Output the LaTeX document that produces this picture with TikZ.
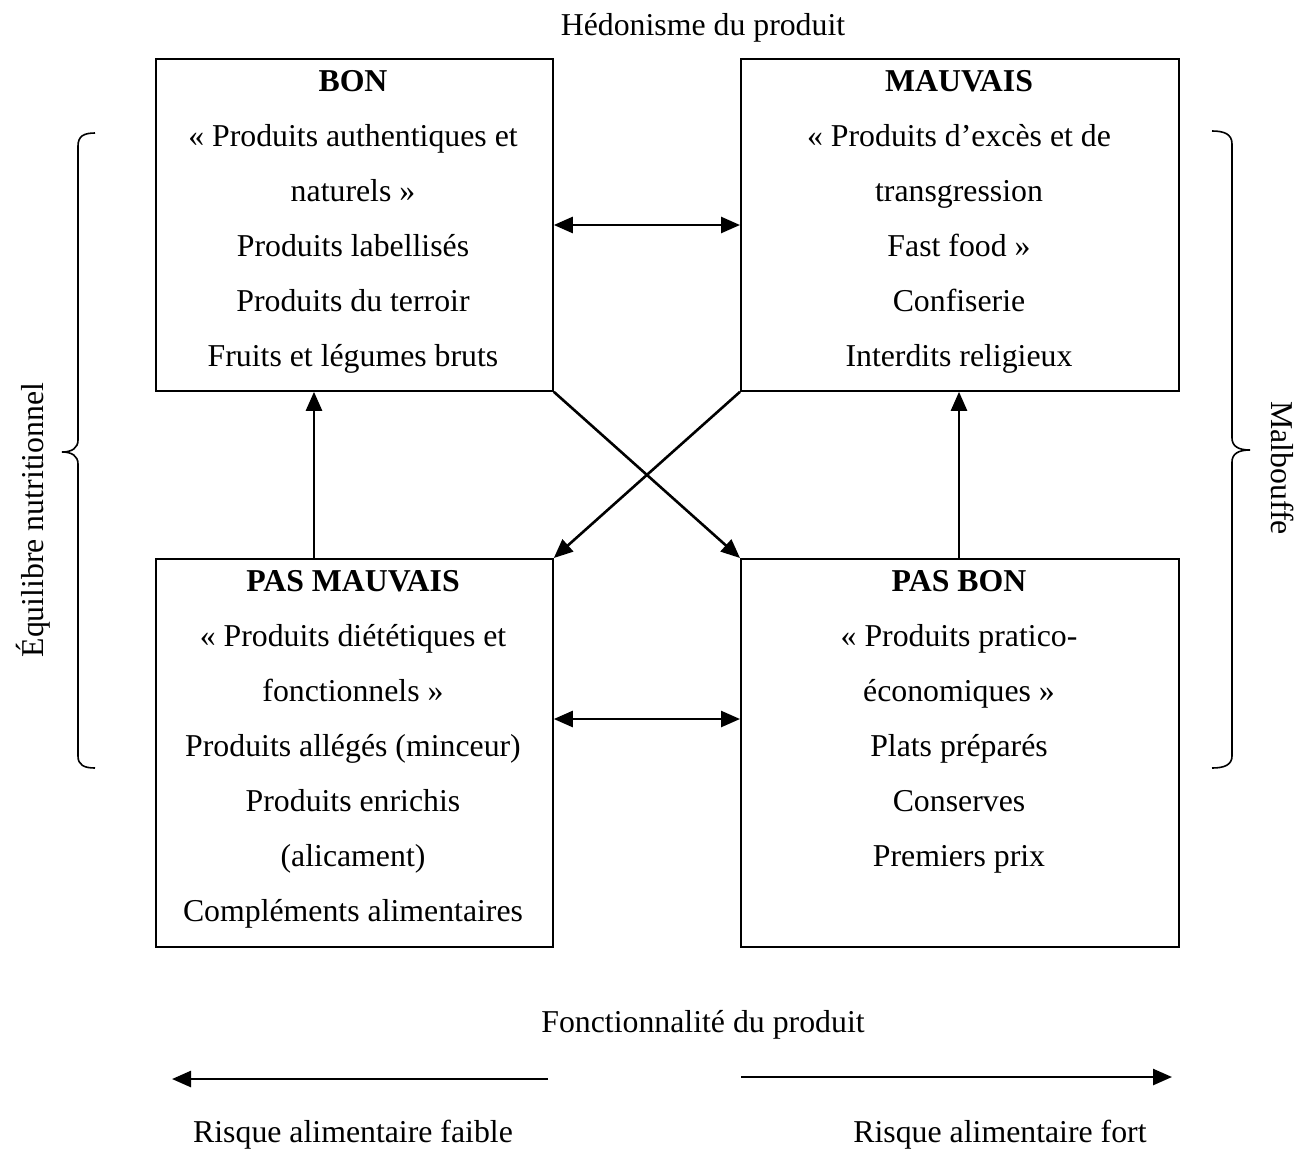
\documentclass[tikz,border=0pt]{standalone}
\usepackage{fontspec}
\setmainfont{Liberation Serif}
\usetikzlibrary{arrows.meta}
\begin{document}
\begin{tikzpicture}[x=1pt,y=-1pt,
  every node/.style={font=\fontsize{31.8}{55}\selectfont, inner sep=0pt},
  box/.style={draw, line width=1.8pt, rectangle, anchor=north west},
  txt/.style={align=center, anchor=base},
  arr/.style={line width=2.6pt, -{Triangle[length=19pt,width=16pt]}},
  darr/.style={line width=2.6pt, {Triangle[length=19pt,width=16pt]}-{Triangle[length=19pt,width=16pt]}},
  brace/.style={line width=1.6pt}]
\useasboundingbox (0,0) rectangle (1308,1149);
% boxes
\node[box, minimum width=397pt, minimum height=332pt] (bon) at (155,58) {};
\node[box, minimum width=438pt, minimum height=332pt] (mau) at (740,58) {};
\node[box, minimum width=397pt, minimum height=388pt] (pmau) at (155,558) {};
\node[box, minimum width=438pt, minimum height=388pt] (pbon) at (740,558) {};
% texts (base anchor = baseline of last line)
\node[txt] (tbon) at (353,366) {\textbf{BON}\\« Produits authentiques et\\naturels »\\Produits labellisés\\Produits du terroir\\Fruits et légumes bruts};
\node[txt] (tmau) at (959,366) {\textbf{MAUVAIS}\\« Produits d’excès et de\\transgression\\Fast food »\\Confiserie\\Interdits religieux};
\node[txt] (tpmau) at (353,921) {\textbf{PAS MAUVAIS}\\« Produits diététiques et\\fonctionnels »\\Produits allégés (minceur)\\Produits enrichis\\(alicament)\\Compléments alimentaires};
\node[txt] (tpbon) at (959,866) {\textbf{PAS BON}\\« Produits pratico-\\économiques »\\Plats préparés\\Conserves\\Premiers prix};
% axis labels
\node[anchor=base] (hed) at (703,35) {Hédonisme du produit};
\node[anchor=base] (fonc) at (703,1032) {Fonctionnalité du produit};
\node[anchor=base] (rfa) at (353,1142) {Risque alimentaire faible};
\node[anchor=base] (rfo) at (1000,1142) {Risque alimentaire fort};
\node[rotate=90] (equ) at (33,520) {Équilibre nutritionnel};
\node[rotate=-90] (mal) at (1283,468) {Malbouffe};
% connectors
\draw[darr] (bon.east |- 0,225) -- (mau.west |- 0,225);
\draw[darr] (pmau.east |- 0,719) -- (pbon.west |- 0,719);
\draw[arr] (pmau.north -| 314,0) -- (bon.south -| 314,0);
\draw[arr] (pbon.north -| 959,0) -- (mau.south -| 959,0);
\draw[arr] (bon.south east) -- (pbon.north west);
\draw[arr] (mau.south west) -- (pmau.north east);
% bottom arrows
\coordinate (la) at (548,1079);
\coordinate (lb) at (172,1079);
\coordinate (ra) at (741,1077);
\coordinate (rb) at (1172,1077);
\draw[arr] (la) -- (lb);
\draw[arr] (ra) -- (rb);
% braces
\draw[brace] (95,133) .. controls (84,133) and (78,136) .. (78,146) -- (78,440)
  .. controls (78,448) and (72,452) .. (62,452)
  .. controls (72,452) and (78,456) .. (78,464) -- (78,756)
  .. controls (78,765) and (84,768) .. (95,768);
\draw[brace] (1212,131) .. controls (1224,131) and (1232,134) .. (1232,144) -- (1232,438)
  .. controls (1232,446) and (1238,450) .. (1250,450)
  .. controls (1238,450) and (1232,454) .. (1232,462) -- (1232,756)
  .. controls (1232,765) and (1224,768) .. (1212,768);
\end{tikzpicture}
\end{document}
